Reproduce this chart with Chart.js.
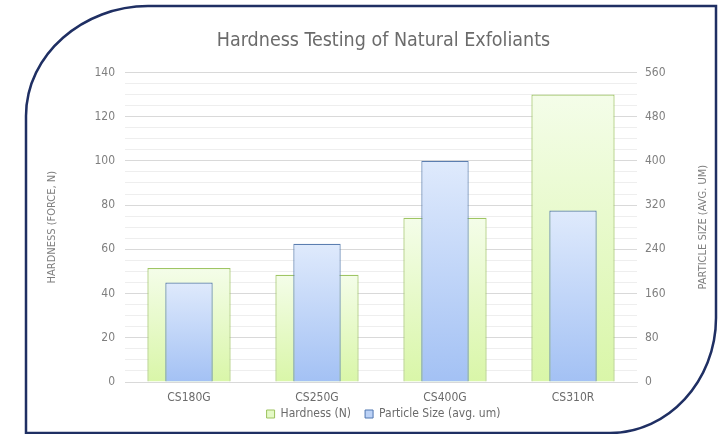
<!DOCTYPE html>
<html>
<head>
<meta charset="utf-8">
<script src="https://cdn.jsdelivr.net/npm/chart.js@4"></script>
<style>
  html, body { margin: 0; padding: 0; background: #fff; }
  #wrap { width: 725px; height: 434px; }
</style>
</head>
<body>
<div id="wrap"><canvas id="chart-id-1" width="725" height="434"></canvas></div>
<script>
const FONT = "'Liberation Sans Narrow', 'DejaVu Sans Condensed', 'Roboto', sans-serif"

const categories = ['CS180G', 'CS250G', 'CS400G', 'CS310R']
const hardness = [51.5, 48.5, 74.3, 130]
const particleSize = [180, 250, 400, 310]

const leftTicks = [0, 20, 40, 60, 80, 100, 120, 140]
const rightTicks = [0, 80, 160, 240, 320, 400, 480, 560]
const rightTitle = 'PARTICLE SIZE (AVG. UM)'


function barGradient(ctx, axisId, top, bottom) {
    const chart = ctx.chart
    if (!chart.chartArea || ctx.type !== 'data') { return bottom }
    const scale = chart.scales[axisId]
    const y1 = scale.getPixelForValue(ctx.parsed.y)
    const y0 = scale.getPixelForValue(0)
    if (!isFinite(y1) || y0 - y1 < 1) { return bottom }
    const g = chart.ctx.createLinearGradient(0, y1, 0, y0)
    g.addColorStop(0, top)
    g.addColorStop(1, bottom)
    return g
}

// keep the legend short in the layout, then lift it right under the x labels
const legendPlacePlugin = {
    id: 'legendPlace',
    beforeInit(chart) {
        const fit = chart.legend.fit
        chart.legend.fit = function () {
            fit.call(this)
            this.height = 20
        }
    },
    afterLayout(chart) {
        chart.legend.top = 394
        chart.legend.bottom = 432
        chart.legend.height = 38
    }
}

// right axis title reads bottom-to-top like the left one
const rightTitlePlugin = {
    id: 'rightTitle',
    afterDraw(chart) {
        const c = chart.ctx
        const area = chart.chartArea
        c.save()
        c.translate(703, (area.top + area.bottom) / 2)
        c.rotate(-Math.PI / 2)
        c.fillStyle = '#7f7f7f'
        c.font = '11px ' + FONT
        c.textAlign = 'center'
        c.textBaseline = 'middle'
        c.fillText(rightTitle, 0, 0)
        c.restore()
    }
}

// the navy frame with two rounded corners
const framePlugin = {
    id: 'frame',
    afterDraw(chart) {
        const c = chart.ctx
        const L = 26, T = 6, R = 716, B = 433
        c.save()
        c.strokeStyle = '#1f2f63'
        c.lineWidth = 2.5
        c.beginPath()
        c.moveTo(L, 440)
        c.lineTo(L, T + 110)
        c.bezierCurveTo(L, T + 48, L + 58, T, L + 122, T)
        c.lineTo(R, T)
        c.lineTo(R, B - 115)
        c.bezierCurveTo(R, B - 52, R - 48, B, R - 106, B)
        c.lineTo(L, B)
        c.stroke()
        c.restore()
    }
}

const chart = new Chart(
    document.getElementById('chart-id-1'),
    {
        type: 'bar',
        data: {
            labels: categories,
            datasets: [
                {
                    label: 'Hardness (N)',
                    data: hardness,
                    yAxisID: 'y',
                    order: 2,
                    grouped: false,
                    barPercentage: 0.65,
                    categoryPercentage: 1,
                    backgroundColor: (ctx) => barGradient(ctx, 'y', '#f4fde9', '#d9f6a8'),
                    borderColor: '#9fc564',
                    borderWidth: 1.2
                },
                {
                    label: 'Particle Size (avg. um)',
                    data: particleSize,
                    yAxisID: 'y2',
                    order: 1,
                    grouped: false,
                    barPercentage: 0.37,
                    categoryPercentage: 1,
                    backgroundColor: (ctx) => barGradient(ctx, 'y2', '#dfeafc', '#a3c1f4'),
                    borderColor: '#5b7eb0',
                    borderWidth: 1.2
                }
            ]
        },
        options: {
            responsive: false,
            animation: false,
            layout: { padding: { left: 46, right: 4, top: 8, bottom: 4 } },
            plugins: {
                title: {
                    display: true,
                    text: 'Hardness Testing of Natural Exfoliants',
                    color: '#6b6b6b',
                    font: { family: FONT, size: 19.5, weight: 'normal' },
                    padding: { top: 21, bottom: 20 }
                },
                legend: {
                    position: 'bottom',
                    labels: {
                        color: '#6b6b6b',
                        font: { family: FONT, size: 12 },
                        boxWidth: 8,
                        boxHeight: 8,
                        padding: 14,
                        generateLabels(chart) {
                            const fills = ['#e4f9c6', '#bcd2f6']
                            const strokes = ['#9cc35e', '#4f76b0']
                            return chart.data.datasets.map((ds, i) => ({
                                text: ds.label,
                                fillStyle: fills[i],
                                strokeStyle: strokes[i],
                                lineWidth: 1,
                                datasetIndex: i,
                                fontColor: '#6b6b6b'
                            }))
                        }
                    }
                },
                tooltip: { enabled: false }
            },
            scales: {
                x: {
                    afterFit(axis) { axis.height = 28 },
                    grid: { display: false, drawTicks: false },
                    border: { color: '#d9d9d9' },
                    ticks: {
                        color: '#6b6b6b',
                        font: { family: FONT, size: 12 },
                        padding: 9
                    }
                },
                y: {
                    position: 'left',
                    min: 0,
                    max: 140,
                    afterBuildTicks(axis) {
                        const t = []
                        for (let v = 0; v <= 140; v += 5) { t.push({ value: v }) }
                        axis.ticks = t
                    },
                    afterFit(axis) { axis.width = 79 },
                    grid: {
                        drawTicks: false,
                        color: (ctx) => (leftTicks.includes(ctx.tick.value) ? '#d9d9d9' : '#eeeeee'),
                        lineWidth: 1
                    },
                    border: { display: false },
                    ticks: {
                        color: '#7f7f7f',
                        font: { family: FONT, size: 12 },
                        padding: 10,
                        autoSkip: false,
                        callback: (v) => (leftTicks.includes(v) ? String(v) : '')
                    },
                    title: {
                        display: true,
                        text: 'HARDNESS (FORCE, N)',
                        color: '#7f7f7f',
                        font: { family: FONT, size: 11 },
                        padding: { top: 0, bottom: 0 }
                    }
                },
                y2: {
                    position: 'right',
                    min: 0,
                    max: 560,
                    afterBuildTicks(axis) {
                        axis.ticks = rightTicks.map(v => ({ value: v }))
                    },
                    afterFit(axis) { axis.width = 84 },
                    grid: { drawOnChartArea: false, drawTicks: false },
                    border: { display: false },
                    ticks: {
                        color: '#7f7f7f',
                        font: { family: FONT, size: 12 },
                        padding: 8,
                        autoSkip: false
                    }
                }
            }
        },
        plugins: [legendPlacePlugin, rightTitlePlugin, framePlugin]
    }
)
</script>
</body>
</html>
